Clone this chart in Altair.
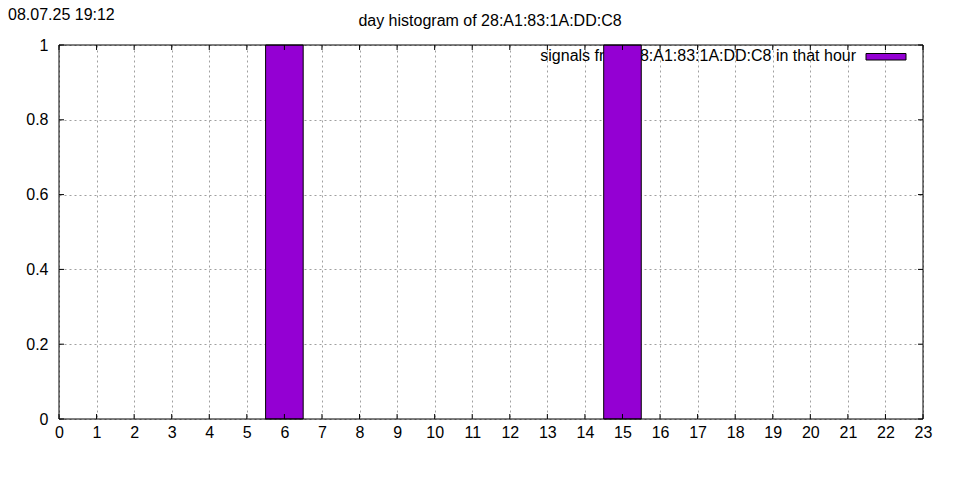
import altair as alt
import pandas as pd

hours = list(range(24))
counts = [0, 0, 0, 0, 0, 0, 1, 0, 0, 0, 0, 0, 0, 0, 0, 1, 0, 0, 0, 0, 0, 0, 0, 0]
x_ticks = list(range(24))
y_ticks = [0, 0.2, 0.4, 0.6, 0.8, 1]
title_text = "day histogram of 28:A1:83:1A:DD:C8"
stamp_text = "08.07.25 19:12"
legend_text = "signals from 28:A1:83:1A:DD:C8 in that hour"

W, H = 864, 374
FONT = "Liberation Sans"
PURPLE = "#9400d3"

bars = pd.DataFrame({"h": hours, "count": counts})
bars["x"] = bars["h"] - 0.5
bars["x1"] = bars["h"] + 0.5
bars["base"] = 0
xt = pd.DataFrame({"x": x_ticks})
yt = pd.DataFrame({"y": y_ticks})
one = pd.DataFrame({"k": [0]})

xscale = alt.Scale(domain=[0, 23], nice=False, zero=False)
yscale = alt.Scale(domain=[0, 1], nice=False)
xaxis = alt.Axis(values=x_ticks, grid=True, gridDash=[2, 3], gridColor="#a0a0a0",
                 gridWidth=1, ticks=False, tickSize=0, domain=False, title=None,
                 labelFont=FONT, labelFontSize=16, labelColor="black",
                 labelPadding=5, labelFlush=False, labelOverlap=False,
                 labelBaseline="top")
yaxis = alt.Axis(values=y_ticks, grid=True, gridDash=[2, 3], gridColor="#a0a0a0",
                 gridWidth=1, ticks=False, tickSize=0, domain=False, title=None,
                 labelFont=FONT, labelFontSize=16, labelColor="black",
                 labelPadding=11, labelFlush=False, labelOverlap=False,
                 labelExpr="format(datum.value, '~g')")

X = lambda f: alt.X(f"{f}:Q", scale=xscale, axis=xaxis)
Y = lambda f: alt.Y(f"{f}:Q", scale=yscale, axis=yaxis)

legend_t = alt.Chart(one).mark_text(
    font=FONT, fontSize=16, align="right", baseline="middle", color="black"
).encode(x=alt.value(797), y=alt.value(11), text=alt.value(legend_text))

legend_key = alt.Chart(one).mark_rect(
    fill=PURPLE, stroke="black", strokeWidth=1
).encode(x=alt.value(807), x2=alt.value(847), y=alt.value(8.5), y2=alt.value(15))

bar_layer = alt.Chart(bars).transform_filter("datum.count > 0").mark_rect(
    fill=PURPLE, stroke="black", strokeWidth=1
).encode(x=X("x"), x2="x1:Q", y=Y("count"), y2="base:Q")

border = alt.Chart(one).mark_rect(fill=None, stroke="black", strokeWidth=1).encode(
    x=alt.value(0), x2=alt.value(W), y=alt.value(0), y2=alt.value(H))

xt_bot = alt.Chart(xt).mark_rule(color="black", strokeWidth=1).encode(
    x=X("x"), y=alt.value(H), y2=alt.value(H - 5))
xt_top = alt.Chart(xt).mark_rule(color="black", strokeWidth=1).encode(
    x=X("x"), y=alt.value(0), y2=alt.value(5))
yt_left = alt.Chart(yt).mark_rule(color="black", strokeWidth=1).encode(
    y=Y("y"), x=alt.value(0), x2=alt.value(5))
yt_right = alt.Chart(yt).mark_rule(color="black", strokeWidth=1).encode(
    y=Y("y"), x=alt.value(W), x2=alt.value(W - 5))

title_l = alt.Chart(one).mark_text(
    font=FONT, fontSize=16, align="center", baseline="middle", color="black"
).encode(x=alt.value(431), y=alt.value(-24), text=alt.value(title_text))
stamp_l = alt.Chart(one).mark_text(
    font=FONT, fontSize=16, align="left", baseline="alphabetic", color="black"
).encode(x=alt.value(-51), y=alt.value(-25.5), text=alt.value(stamp_text))

chart = alt.layer(
    legend_t, bar_layer, legend_key, border, xt_bot, xt_top, yt_left, yt_right,
    title_l, stamp_l
).properties(
    width=W, height=H,
    autosize=alt.AutoSizeParams(type="none"),
    padding={"left": 51, "top": 37, "right": 20, "bottom": 40},
    background="white",
).configure_view(stroke=None)

chart.save("out.html", embed_options={"renderer": "svg", "actions": False})
